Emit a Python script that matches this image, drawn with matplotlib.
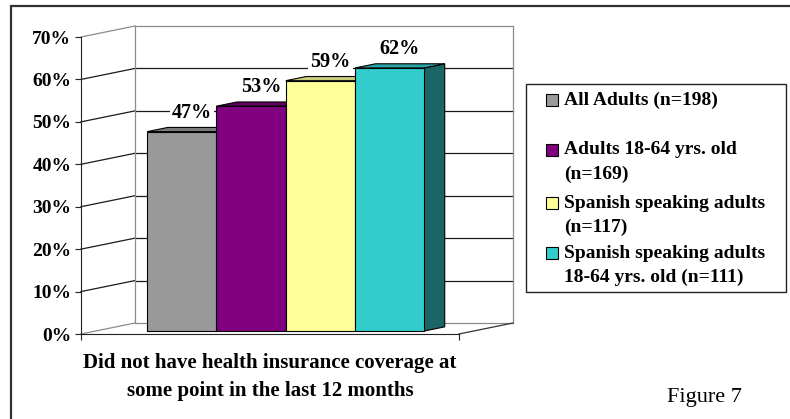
import matplotlib
matplotlib.use("Agg")
import matplotlib.pyplot as plt
from matplotlib.patches import Polygon, Rectangle
from matplotlib.lines import Line2D

# ---------------- data ----------------
category = "Did not have health insurance coverage at\nsome point in the last 12 months"
series_labels = ["All Adults (n=198)",
                 "Adults 18-64 yrs. old\n(n=169)",
                 "Spanish speaking adults\n(n=117)",
                 "Spanish speaking adults\n18-64 yrs. old (n=111)"]
values = [47, 53, 59, 62]
yticks = [0, 10, 20, 30, 40, 50, 60, 70]
ytick_labels = ["0%", "10%", "20%", "30%", "40%", "50%", "60%", "70%"]
value_labels = ["47%", "53%", "59%", "62%"]
figure_caption = "Figure 7"

# ---------------- style ----------------
front_colors = ["#999999", "#800080", "#FFFF99", "#33CCCC"]
top_colors = ["#7a7a7a", "#5e005e", "#CCCC7a", "#29a3a3"]
side_colors = ["#5a5a5a", "#400040", "#80804d", "#1a6666"]
SERIF = ["Liberation Serif", "DejaVu Serif"]

W, H = 790, 419
fig = plt.figure(figsize=(W / 100, H / 100), dpi=100)
fig.patch.set_facecolor("white")


def fx(px):
    return px / W


def fy(py):
    return 1 - py / H


# outer frame (only left/top visible in the reference)
fig.add_artist(Rectangle((fx(11), fy(430)), fx(800) - fx(11), fy(6) - fy(430),
                         transform=fig.transFigure, fill=False,
                         edgecolor="#333333", lw=1.6))

# front plane of the 3-D box
x0p, x1p, y0p, y1p = 81, 459, 334, 37
ax = fig.add_axes([fx(x0p), fy(y0p), fx(x1p) - fx(x0p), fy(y1p) - fy(y0p)])
ax.set_xlim(0, 1)
ax.set_ylim(0, 70)
ax.patch.set_visible(False)
for s in ["top", "right"]:
    ax.spines[s].set_visible(False)
ax.spines["left"].set_color("#222222")
ax.spines["bottom"].set_color("#222222")
ax.spines["left"].set_linewidth(0.8)
ax.spines["bottom"].set_linewidth(0.8)
ax.set_yticks(yticks)
ax.set_yticklabels(ytick_labels, fontfamily=SERIF, fontweight="bold", fontsize=14)
ax.set_xticks([0, 1])
ax.set_xticklabels(["", ""])
ax.tick_params(axis="both", direction="out", length=4, width=0.8, color="#222222")
ax.tick_params(axis="y", pad=3)
ax.set_xlabel(category, fontfamily=SERIF, fontweight="bold", fontsize=15,
              labelpad=6, linespacing=1.55)

# depth of the box (in data units)
px_per_x = (x1p - x0p) / 1.0
px_per_y = (y0p - y1p) / 70.0
DX = 54 / px_per_x
DY = 11 / px_per_y

wall_c = "#8c8c8c"
grid_c = "#1a1a1a"
# back wall grid lines and side wall lines
for v in yticks:
    c = wall_c if v in (0, 70) else grid_c
    ax.add_line(Line2D([DX, 1 + DX], [v + DY, v + DY], color=c, lw=0.9,
                       clip_on=False, zorder=1))
    ax.add_line(Line2D([0, DX], [v, v + DY], color=grid_c if v not in (0, 70) else wall_c,
                       lw=0.9, clip_on=False, zorder=1))
ax.add_line(Line2D([DX, DX], [DY, 70 + DY], color=wall_c, lw=0.9, clip_on=False, zorder=1))
ax.add_line(Line2D([1 + DX, 1 + DX], [DY, 70 + DY], color=wall_c, lw=0.9, clip_on=False, zorder=1))
ax.add_line(Line2D([1, 1 + DX], [0, DY], color="#333333", lw=0.9, clip_on=False, zorder=1))

# bars
n = len(values)
bw = 0.1832
left_margin = (1 - n * bw) / 2 + 0.003
f_front = 0.27
f_depth = 0.38
for i, v in enumerate(values):
    xl = left_margin + i * bw + f_front * DX
    b = f_front * DY
    top = b + v
    ddx, ddy = f_depth * DX, f_depth * DY
    side = Polygon([(xl + bw, b), (xl + bw, top), (xl + bw + ddx, top + ddy),
                    (xl + bw + ddx, b + ddy)], closed=True, facecolor=side_colors[i],
                   edgecolor="black", lw=0.8, zorder=3 + 3 * i, clip_on=False)
    ax.add_patch(side)
    tp = Polygon([(xl, top), (xl + bw, top), (xl + bw + ddx, top + ddy),
                  (xl + ddx, top + ddy)], closed=True, facecolor=top_colors[i],
                 edgecolor="black", lw=0.8, zorder=3 + 3 * i + 1, clip_on=False)
    ax.add_patch(tp)
    ax.bar([xl], [v], width=bw, bottom=b, align="edge", color=front_colors[i],
           edgecolor="black", linewidth=0.8, zorder=3 + 3 * i + 2, clip_on=False)
    ax.text(xl + bw / 2 + 0.5 * ddx, top + ddy + 3.5, value_labels[i],
            ha="center", va="center", fontfamily=SERIF, fontweight="bold",
            fontsize=14.5, zorder=30,
            bbox=dict(boxstyle="square,pad=0.1", facecolor="white", edgecolor="none"))

# legend (drawn manually in figure pixels)
fig.add_artist(Rectangle((fx(526), fy(292)), fx(786) - fx(526), fy(84) - fy(292),
                         transform=fig.transFigure, facecolor="white",
                         edgecolor="#222222", lw=1.0))
entry_y = [100, 150, 203, 253]
line_gap = 24
for i, lab in enumerate(series_labels):
    yc = entry_y[i]
    fig.add_artist(Rectangle((fx(546), fy(yc + 6)), fx(12), fy(0) - fy(12),
                             transform=fig.transFigure, facecolor=front_colors[i],
                             edgecolor="black", lw=0.8))
    for j, line in enumerate(lab.split("\n")):
        fig.text(fx(564), fy(yc + j * line_gap), line, ha="left", va="center",
                 fontfamily=SERIF, fontweight="bold", fontsize=14)

fig.text(fx(704), fy(397), figure_caption, ha="center", va="center",
         fontfamily=SERIF, fontsize=16)

fig.savefig("out.png", dpi=100, facecolor="white")
